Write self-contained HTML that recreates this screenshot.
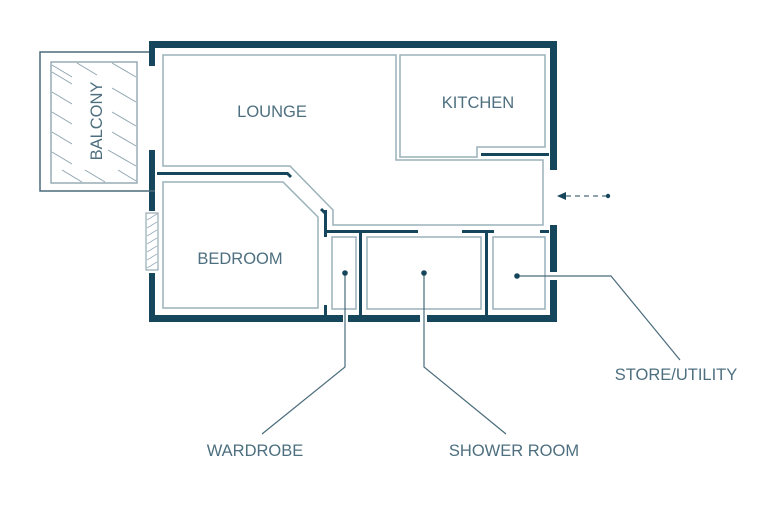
<!DOCTYPE html>
<html><head><style>
html,body{margin:0;padding:0;background:#fff;}
svg{display:block}
text{font-family:"Liberation Sans",sans-serif;fill:#4d6f7f;font-size:16.5px;}
</style></head><body>
<svg width="768" height="509" viewBox="0 0 768 509">
<g fill="#16465b">
<rect x="149" y="41" width="408" height="7"/>
<rect x="550" y="41" width="7" height="129"/>
<rect x="550" y="225" width="7" height="47"/>
<rect x="550" y="280" width="7" height="42"/>
<rect x="149" y="315" width="194" height="7"/>
<rect x="348" y="315" width="72" height="7"/>
<rect x="427" y="315" width="130" height="7"/>
<rect x="149" y="41" width="6" height="25"/>
<rect x="149" y="150" width="6" height="61"/>
<rect x="149" y="273" width="6" height="49"/>
<rect x="157" y="172" width="131" height="3"/>
<rect x="324" y="210" width="3" height="27"/>
<rect x="324" y="230" width="94" height="3"/>
<rect x="462" y="230" width="32" height="3"/>
<rect x="540" y="230" width="9" height="3"/>
<rect x="359" y="230" width="3" height="88"/>
<rect x="485" y="230" width="3" height="88"/>
<rect x="324" y="305" width="3" height="12"/>
<rect x="481" y="153" width="68" height="3"/>
</g>
<g stroke="#16465b" stroke-width="3" fill="none">
<line x1="287" y1="173" x2="291" y2="177"/>
<line x1="321" y1="209" x2="325" y2="213"/>
</g>
<rect x="146" y="213" width="12" height="57" fill="#fff" stroke="#7f98a4" stroke-width="1"/>
<g stroke="#9aafb9" stroke-width="0.8">
<line x1="147" y1="220" x2="157" y2="214"/><line x1="147" y1="228" x2="157" y2="222"/>
<line x1="147" y1="236" x2="157" y2="230"/><line x1="147" y1="244" x2="157" y2="238"/>
<line x1="147" y1="252" x2="157" y2="246"/><line x1="147" y1="260" x2="157" y2="254"/>
<line x1="147" y1="268" x2="157" y2="262"/>
</g>
<path d="M149 52 H40 V191 H155" fill="none" stroke="#4a6b7b" stroke-width="1.5"/>
<rect x="51" y="62" width="86" height="121" fill="none" stroke="#7f98a4" stroke-width="1.2"/>
<g stroke="#8ba2ad" stroke-width="0.9">
<line x1="52" y1="65" x2="72" y2="77"/><line x1="77" y1="63" x2="97" y2="75"/><line x1="112" y1="63" x2="136" y2="77"/>
<line x1="52" y1="92" x2="72" y2="104"/><line x1="112" y1="88" x2="136" y2="102"/>
<line x1="52" y1="112" x2="72" y2="124"/><line x1="112" y1="112" x2="136" y2="126"/>
<line x1="52" y1="132" x2="72" y2="144"/><line x1="112" y1="132" x2="136" y2="146"/>
<line x1="52" y1="152" x2="72" y2="164"/><line x1="108" y1="150" x2="136" y2="166"/>
<line x1="62" y1="170" x2="82" y2="182"/><line x1="85" y1="170" x2="105" y2="182"/><line x1="118" y1="170" x2="136" y2="181"/>
<line x1="52" y1="72" x2="72" y2="84"/>
</g>
<g fill="none" stroke="#9ab0ba" stroke-width="1.5">
<path d="M163 55 H396 V160 H543 V225 H333 V210 L290 166 H163 Z"/>
<path d="M400 55 H545 V147 H477 V157 H400 Z"/>
<path d="M163 182 H283 L318 217 V308 H163 Z"/>
<rect x="332" y="237" width="24" height="72"/>
<rect x="367" y="237" width="114" height="72"/>
<rect x="493" y="237" width="52" height="72"/>
</g>
<g fill="none" stroke="#4a6b7b" stroke-width="1.2">
<path d="M517 276 H611 L680 360"/>
<path d="M345 273 V367 L262 434"/>
<path d="M424 273 V367 L506 434"/>
<line x1="566" y1="196" x2="608" y2="196" stroke-dasharray="5,4"/>
</g>
<g fill="#16465b">
<circle cx="345" cy="273" r="2.8"/><circle cx="424" cy="273" r="2.8"/><circle cx="517" cy="276" r="2.8"/>
<circle cx="608" cy="196" r="2.2"/>
<path d="M557 196 L566 192 L566 200 Z"/>
</g>
<text x="272" y="117" text-anchor="middle">LOUNGE</text>
<text x="478" y="108" text-anchor="middle">KITCHEN</text>
<text x="240" y="264" text-anchor="middle">BEDROOM</text>
<text transform="translate(102,121) rotate(-90)" text-anchor="middle">BALCONY</text>
<text x="676" y="380" text-anchor="middle">STORE/UTILITY</text>
<text x="255" y="456" text-anchor="middle">WARDROBE</text>
<text x="514" y="456" text-anchor="middle">SHOWER ROOM</text>
</svg>
</body></html>
